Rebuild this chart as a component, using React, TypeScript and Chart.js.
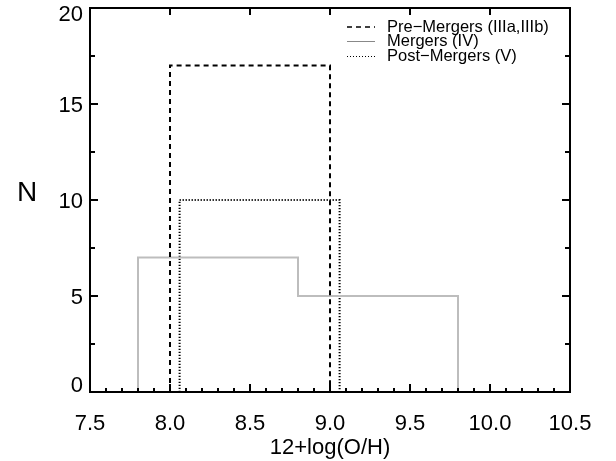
import React, { useEffect, useRef } from "react";
import { Chart, registerables } from "chart.js";

Chart.register(...registerables);

// Histogram bin edges and counts (N per bin)
const preEdges = [8.0, 9.0];
const preCounts = [17];
const mergerEdges = [7.8, 8.8, 9.8];
const mergerCounts = [7, 5];
const postEdges = [8.06, 9.06];
const postCounts = [10];

const seriesLabels = ["Pre\u2212Mergers (IIIa,IIIb)", "Mergers (IV)", "Post\u2212Mergers (V)"];
const xTitle = "12+log(O/H)";
const yTitle = "N";
const xMajor = [7.5, 8.0, 8.5, 9.0, 9.5, 10.0, 10.5];
const yMajor = [0, 5, 10, 15, 20];

const FONT = "'Liberation Sans', Arial, Helvetica, sans-serif";

function histPoints(edges: number[], counts: number[]) {
  const pts: { x: number; y: number }[] = [];
  for (let i = 0; i < counts.length; i++) {
    const prev = i === 0 ? 0 : counts[i - 1];
    pts.push({ x: edges[i], y: prev });
    pts.push({ x: edges[i], y: counts[i] });
  }
  const n = counts.length;
  pts.push({ x: edges[n], y: counts[n - 1] });
  pts.push({ x: edges[n], y: 0 });
  return pts;
}

const styles = [
  { color: "#000000", width: 2, dash: [5, 4] },
  { color: "#bdbdbd", width: 2, dash: [] as number[] },
  { color: "#000000", width: 2, dash: [1.2, 1.8] },
];

const framePlugin = {
  id: "framePlugin",
  afterDraw(chart: any) {
    const { ctx, chartArea } = chart;
    const { left, right, top, bottom } = chartArea;
    const xs = chart.scales.x;
    const ys = chart.scales.y;
    ctx.save();
    ctx.strokeStyle = "#000";
    ctx.lineWidth = 2;
    ctx.setLineDash([]);
    ctx.strokeRect(left, top, right - left, bottom - top);
    ctx.beginPath();
    // bottom ticks: minor every 0.1, major every 0.5
    for (let k = 0; k <= 30; k++) {
      const v = 7.5 + k * 0.1;
      const px = Math.round(xs.getPixelForValue(v));
      const len = k % 5 === 0 ? 8 : 4;
      ctx.moveTo(px, bottom);
      ctx.lineTo(px, bottom - len);
    }
    // top ticks: major only
    for (const v of xMajor) {
      const px = Math.round(xs.getPixelForValue(v));
      ctx.moveTo(px, top);
      ctx.lineTo(px, top + 7);
    }
    // left/right ticks: major every 5, minor every 2.5
    for (let k = 0; k <= 8; k++) {
      const v = k * 2.5;
      const py = Math.round(ys.getPixelForValue(v));
      const len = k % 2 === 0 ? 8 : 5;
      ctx.moveTo(left, py);
      ctx.lineTo(left + len, py);
      ctx.moveTo(right, py);
      ctx.lineTo(right - len, py);
    }
    ctx.stroke();

    ctx.fillStyle = "#000";
    // y tick labels, kept inside the plot's vertical extent
    ctx.font = `22px ${FONT}`;
    ctx.textAlign = "right";
    ctx.textBaseline = "middle";
    for (const v of yMajor) {
      let py = ys.getPixelForValue(v) + 1.5;
      py = Math.max(top + 7, Math.min(bottom - 6, py));
      ctx.fillText(String(v), left - 7, py);
    }

    // y title
    ctx.font = `28px ${FONT}`;
    ctx.textAlign = "center";
    ctx.fillText(yTitle, 27, 193);

    // legend
    ctx.font = `16.5px ${FONT}`;
    ctx.textAlign = "left";
    const rowsY = [27, 41.5, 56.5];
    for (let i = 0; i < seriesLabels.length; i++) {
      const s = styles[i];
      ctx.beginPath();
      ctx.strokeStyle = i === 1 ? "#888" : s.color;
      ctx.lineWidth = i === 1 ? 1 : i === 0 ? 1.5 : 1;
      ctx.setLineDash(i === 2 ? [1, 2] : s.dash);
      ctx.moveTo(347, rowsY[i]);
      ctx.lineTo(375, rowsY[i]);
      ctx.stroke();
      ctx.setLineDash([]);
      ctx.fillStyle = "#000";
      ctx.fillText(seriesLabels[i], 387, rowsY[i]);
    }
    ctx.restore();
  },
};

export default function App() {
  const ref = useRef<HTMLCanvasElement>(null);
  useEffect(() => {
    if (!ref.current) return;
    Chart.defaults.font.family = FONT;
    const all = [
      histPoints(preEdges, preCounts),
      histPoints(mergerEdges, mergerCounts),
      histPoints(postEdges, postCounts),
    ];
    const chart = new Chart(ref.current, {
      type: "line",
      data: {
        datasets: all.map((pts, i) => ({
          label: seriesLabels[i],
          data: pts,
          borderColor: styles[i].color,
          borderWidth: styles[i].width,
          borderDash: styles[i].dash,
          pointRadius: 0,
          tension: 0,
          fill: false,
        })),
      },
      options: {
        animation: false,
        responsive: false,
        layout: { padding: { top: 8, right: 46, left: 0, bottom: 0 } },
        plugins: { legend: { display: false }, tooltip: { enabled: false } },
        scales: {
          x: {
            type: "linear",
            min: 7.5,
            max: 10.5,
            grid: { display: false },
            border: { display: false },
            afterBuildTicks: (s: any) => {
              s.ticks = xMajor.map((v) => ({ value: v }));
            },
            ticks: {
              color: "#000",
              font: { size: 22 },
              padding: 11,
              maxRotation: 0,
              autoSkip: false,
              callback: (v: any) => Number(v).toFixed(1),
            },
            title: {
              display: true,
              text: xTitle,
              color: "#000",
              font: { size: 22 },
              padding: { top: 0, bottom: 0 },
            },
            afterFit: (s: any) => {
              s.height = 69;
            },
          },
          y: {
            type: "linear",
            min: 0,
            max: 20,
            grid: { display: false },
            border: { display: false },
            afterBuildTicks: (s: any) => {
              s.ticks = yMajor.map((v) => ({ value: v }));
            },
            ticks: { display: false },
            afterFit: (s: any) => {
              s.width = 90;
            },
          },
        },
      },
      plugins: [framePlugin],
    });
    return () => chart.destroy();
  }, []);
  return (
    <div style={{ position: "fixed", left: 0, top: 0, width: 616, height: 461, background: "#fff" }}>
      <canvas ref={ref} width={616} height={461} />
    </div>
  );
}
